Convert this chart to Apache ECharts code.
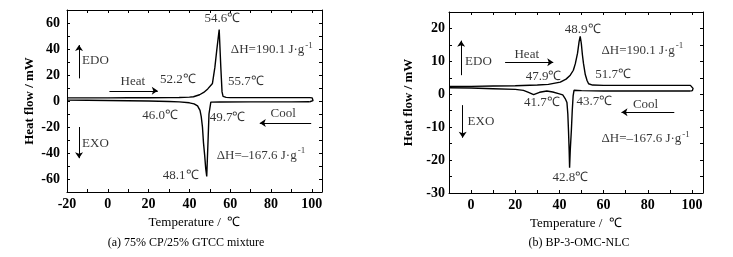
<!DOCTYPE html>
<html>
<head>
<meta charset="utf-8">
<script src="https://cdn.jsdelivr.net/npm/echarts@6/dist/echarts.min.js"></script>
<style>
html, body { margin: 0; padding: 0; background: #fff; }
#dsc_con { width: 733px; height: 257px; }
</style>
</head>
<body>
<div id="dsc_con"></div>
<script>
// (a) 75% CP/25% GTCC mixture
var aHeatT = [-20, -10, 0, 10, 20, 30, 35, 40, 42, 45, 47, 49, 51.3, 52.5, 53.4, 54.6, 55.4, 56.0, 56.5, 58, 60, 70, 80, 90, 99, 100.2, 100.6, 100.6, 100.2, 99];
var aHeatQ = [2.4, 2.4, 2.4, 2.5, 2.5, 2.6, 2.7, 3.0, 3.3, 4.8, 6.6, 9.3, 13.5, 26, 39, 55, 26, 7, 3.6, 2.8, 2.6, 2.6, 2.6, 2.6, 2.6, 2.4, 1.8, 0.3, -0.3, -0.6];
var aCoolT = [99, 90, 70, 55, 50.5, 49.9, 49.6, 49.2, 48.8, 48.5, 48.3, 48.0, 47.5, 46.9, 46.4, 45.8, 45.2, 44, 42.3, 40, 35, 30, 20, 10, 0, -10, -20];
var aCoolQ = [-0.6, -0.7, -0.7, -0.8, -0.9, -1.5, -10, -28, -45, -58, -59, -52, -42, -32, -20, -12, -7.2, -3.8, -2.2, -1.4, -0.7, -0.4, 0, 0.2, 0.4, 0.6, 0.7];

// (b) BP-3-OMC-NLC
var bHeatT = [-10, 0, 10, 20, 30, 35, 40.4, 43, 44.9, 46.3, 47.2, 48.2, 48.9, 49.4, 49.9, 50.4, 50.9, 51.7, 52.5, 53.2, 55, 60, 80, 99.3, 100.2, 100.5, 100.2, 99.3];
var bHeatQ = [2.4, 2.4, 2.5, 2.6, 2.8, 3.0, 3.7, 4.6, 5.8, 7.3, 9.3, 12.5, 16, 17.6, 15.5, 12, 9.3, 6.0, 4.2, 3.2, 2.8, 2.7, 2.7, 2.7, 2.5, 1.8, 1.1, 1.0];
var bCoolT = [99.3, 80, 60, 50, 46.6, 46.2, 45.8, 45.4, 44.9, 44.6, 44.4, 44.1, 43.8, 43.4, 42.6, 41.5, 39.6, 37, 34.3, 31, 28.3, 26, 23.7, 20, 10, 0, -10];
var bCoolQ = [1.0, 1.0, 1.0, 1.1, 1.2, -0.5, -5, -11, -17, -22.3, -17, -11, -6, -2.5, -1.3, -0.2, 0.2, 0.7, 1.0, 0.6, -0.1, 0.6, 1.2, 1.5, 1.7, 1.9, 2.0];

// annotation texts
var aNotes = ['54.6℃', '52.2℃', '55.7℃', '46.0℃', '49.7℃', '48.1℃'];
var bNotes = ['48.9℃', '47.9℃', '51.7℃', '41.7℃', '43.7℃', '42.8℃'];
var dHHeat = '190.1';
var dHCool = '–167.6';

var FONT = '"Liberation Serif", "Times New Roman", serif';

function zip(xs, ys) {
    var out = [];
    for (var i = 0; i < xs.length; i++) {
        out.push([xs[i], ys[i]]);
    }
    return out;
}

function note(x, y, text, align) {
    return { value: [x, y], label: { formatter: text, align: align || 'center' } };
}

function dh(x, y, val) {
    return note(x, y, '{n|ΔH=' + val + ' J·g}{s|-1}', 'left');
}

function arrow(x1, y1, x2, y2) {
    return [{ coord: [x1, y1] }, { coord: [x2, y2] }];
}

function step(v, n) {
    return (Math.round(v) % n === 0) ? String(v) : '';
}

function xAxes(grid, min, pos) {
    return {
        type: 'value', gridIndex: grid, position: pos, min: min, max: 105, interval: 10,
        splitLine: { show: false },
        axisLine: { onZero: false, lineStyle: { color: '#000', width: 1 } },
        axisTick: { inside: true, length: 3, lineStyle: { color: '#000' } },
        axisLabel: {
            show: pos === 'bottom', margin: 5, color: '#000', fontFamily: FONT, fontSize: 14, fontWeight: 'bold',
            formatter: function (v) { return step(v, 20); }
        },
        name: pos === 'bottom' ? 'Temperature /  ℃' : '',
        nameLocation: 'middle', nameGap: 23,
        nameTextStyle: { color: '#000', fontFamily: FONT, fontSize: 13 }
    };
}

function yAxes(grid, min, max, itv, lbl, pos, gap, margin) {
    return {
        type: 'value', gridIndex: grid, position: pos, min: min, max: max, interval: itv,
        splitLine: { show: false },
        axisLine: { onZero: false, lineStyle: { color: '#000', width: 1 } },
        axisTick: { inside: true, length: 3, lineStyle: { color: '#000' } },
        axisLabel: {
            show: pos === 'left', margin: margin, color: '#000', fontFamily: FONT, fontSize: 14, fontWeight: 'bold',
            formatter: function (v) { return step(v, lbl); }
        },
        name: pos === 'left' ? 'Heat flow / mW' : '',
        nameLocation: 'middle', nameGap: gap,
        nameTextStyle: { color: '#000', fontFamily: FONT, fontSize: 13, fontWeight: 'bold' }
    };
}

var curve = { color: '#000', width: 1.4 };
var arrowStyle = {
    silent: true, symbol: ['none', 'arrow'], symbolSize: 6,
    label: { show: false },
    lineStyle: { color: '#000', width: 1, type: 'solid' },
    animation: false
};
var noteLabel = {
    show: true, position: 'inside', color: '#000', fontFamily: FONT, fontSize: 13,
    rich: {
        n: { color: '#000', fontFamily: FONT, fontSize: 13 },
        s: { color: '#000', fontFamily: FONT, fontSize: 9, padding: [0, 0, 9, 1] }
    }
};

let dscChart = echarts.init(document.getElementById('dsc_con'));
const option = {
    animation: false,
    grid: [
        { left: 67, top: 10, width: 255, height: 182 },
        { left: 449, top: 12, width: 254, height: 181 }
    ],
    xAxis: [
        xAxes(0, -20, 'bottom'), xAxes(0, -20, 'top'),
        xAxes(1, -10, 'bottom'), xAxes(1, -10, 'top')
    ],
    yAxis: [
        yAxes(0, -70, 70, 10, 20, 'left', 31, 7), yAxes(0, -70, 70, 10, 20, 'right', 0, 0),
        yAxes(1, -30, 25, 5, 10, 'left', 34, 4), yAxes(1, -30, 25, 5, 10, 'right', 0, 0)
    ],
    graphic: [
        { type: 'text', x: 186, y: 243, style: { text: '(a) 75% CP/25% GTCC mixture', align: 'center', verticalAlign: 'middle', font: '12px ' + FONT, fill: '#000' } },
        { type: 'text', x: 579, y: 243, style: { text: '(b) BP-3-OMC-NLC', align: 'center', verticalAlign: 'middle', font: '12px ' + FONT, fill: '#000' } }
    ],
    series: [
        {
            type: 'line', xAxisIndex: 0, yAxisIndex: 0, showSymbol: false, lineStyle: curve,
            data: zip(aHeatT, aHeatQ),
            markLine: Object.assign({
                data: [
                    arrow(-14.1, 17.4, -14.1, 43),
                    arrow(0.8, 7.8, 24.5, 7.8),
                    arrow(99.7, -17, 74.5, -17),
                    arrow(-14.1, -20, -14.1, -44)
                ]
            }, arrowStyle)
        },
        {
            type: 'line', xAxisIndex: 0, yAxisIndex: 0, showSymbol: false, lineStyle: curve,
            data: zip(aCoolT, aCoolQ)
        },
        {
            type: 'scatter', xAxisIndex: 0, yAxisIndex: 0, symbolSize: 0, silent: true, label: noteLabel,
            data: [
                note(56.2, 63.3, aNotes[0]),
                note(34.4, 16.8, aNotes[1]),
                note(67.7, 15, aNotes[2]),
                note(25.6, -11, aNotes[3]),
                note(58.7, -12.4, aNotes[4]),
                note(35.7, -57.6, aNotes[5]),
                note(-12.6, 30.8, 'EDO', 'left'),
                note(-12.6, -32.5, 'EXO', 'left'),
                note(12.3, 15.3, 'Heat'),
                note(86, -9.8, 'Cool'),
                dh(60.3, 39.3, dHHeat),
                dh(53.4, -42, dHCool)
            ]
        },
        {
            type: 'line', xAxisIndex: 2, yAxisIndex: 2, showSymbol: false, lineStyle: curve,
            data: zip(bHeatT, bHeatQ),
            markLine: Object.assign({
                data: [
                    arrow(-4.5, 5.8, -4.5, 16.3),
                    arrow(15.4, 9.7, 37.2, 9.7),
                    arrow(92, -5.5, 68.1, -5.5),
                    arrow(-3.8, -3.3, -3.8, -13.2)
                ]
            }, arrowStyle)
        },
        {
            type: 'line', xAxisIndex: 2, yAxisIndex: 2, showSymbol: false, lineStyle: curve,
            data: zip(bCoolT, bCoolQ)
        },
        {
            type: 'scatter', xAxisIndex: 2, yAxisIndex: 2, symbolSize: 0, silent: true, label: noteLabel,
            data: [
                note(50.5, 19.7, bNotes[0]),
                note(32.8, 5.3, bNotes[1]),
                note(64.3, 6.1, bNotes[2]),
                note(32, -2.5, bNotes[3]),
                note(55.8, -2.3, bNotes[4]),
                note(44.9, -25.4, bNotes[5]),
                note(-2.7, 10, 'EDO', 'left'),
                note(-1.6, -8.4, 'EXO', 'left'),
                note(25.2, 12.2, 'Heat'),
                note(79, -3.1, 'Cool'),
                dh(59, 13.4, dHHeat),
                dh(59, -13.5, dHCool)
            ]
        }
    ]
};
dscChart.setOption(option);
</script>
</body>
</html>
